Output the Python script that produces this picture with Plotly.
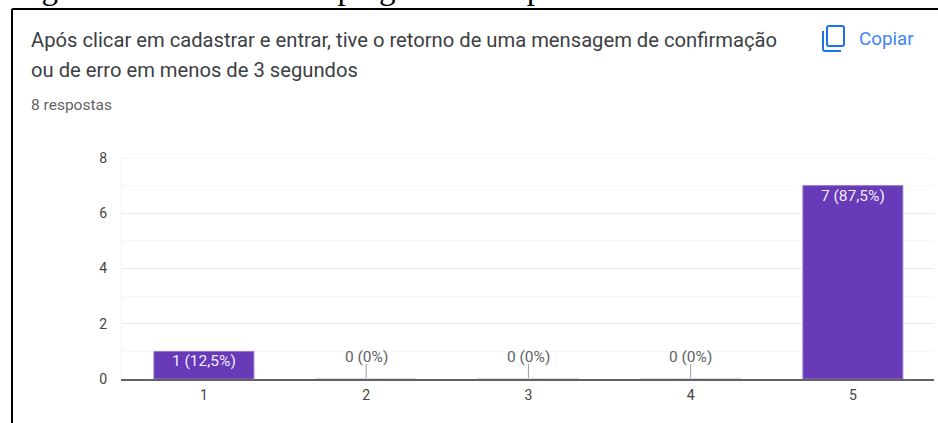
import plotly.graph_objects as go

categories = ["1", "2", "3", "4", "5"]
counts = [1, 0, 0, 0, 7]
labels = ["1 (12,5%)", "0 (0%)", "0 (0%)", "0 (0%)", "7 (87,5%)"]
y_ticks = [0, 2, 4, 6, 8]
title_lines = ["Após clicar em cadastrar e entrar, tive o retorno de uma mensagem de confirmação",
               "ou de erro em menos de 3 segundos"]
responses = "8 respostas"
copy_label = "Copiar"
caption = "Figura 8 – Resultado da pergunta 7 do passo 3 do formulário de teste"

W, H = 938, 423
PURPLE = "#673ab7"
L, R, T, B = 122, 934, 158, 379

def px(x): return (x - L) / (R - L)
def py(y): return (B - y) / (B - T)

fig = go.Figure()
fig.add_trace(go.Bar(
    x=categories, y=counts, width=0.616,
    marker=dict(color=PURPLE, line=dict(color="#9575cd", width=1)),
    hoverinfo="skip", showlegend=False, cliponaxis=False,
))

ann = []
shapes = []
for i, (v, t) in enumerate(zip(counts, labels)):
    if v > 0:
        ann.append(dict(x=i, y=v, xref="x", yref="y", text=t, showarrow=False, yanchor="top", yshift=1,
                        font=dict(family="Roboto", size=15.5, color="#f1ecf9")))
    else:
        ann.append(dict(x=i, y=v, xref="x", yref="y", text=t, showarrow=False, yanchor="bottom", yshift=11,
                        font=dict(family="Roboto", size=15.5, color="#5f6368")))
        shapes.append(dict(type="line", xref="x", yref="y", x0=i, x1=i, y0=v, y1=v + 0.55,
                           line=dict(color="#9e9e9e", width=1)))
        shapes.append(dict(type="line", xref="x", yref="y", x0=i - 0.308, x1=i + 0.308, y0=v + 0.02, y1=v + 0.02,
                           line=dict(color="#dedbe8", width=1)))

shapes.append(dict(type="line", xref="paper", yref="y", x0=0, x1=1, y0=y_ticks[-1], y1=y_ticks[-1],
                   line=dict(color="#ebebeb", width=1)))

for i, line in enumerate(title_lines):
    ann.append(dict(x=px(29), y=py(40 + 30 * i), xref="paper", yref="paper", text=line, showarrow=False,
                    xanchor="left", yanchor="middle", font=dict(family="Roboto", size=20.2, color="#3c4043")))
ann.append(dict(x=px(29), y=py(105), xref="paper", yref="paper", text=responses, showarrow=False,
                xanchor="left", yanchor="middle", font=dict(family="Roboto", size=15.5, color="#5f6368")))
ann.append(dict(x=px(857), y=py(39), xref="paper", yref="paper", text=copy_label, showarrow=False,
                xanchor="left", yanchor="middle", font=dict(family="Roboto", size=18.8, color="#4285f4")))
ann.append(dict(x=px(12), y=py(-12), xref="paper", yref="paper", text=caption, showarrow=False,
                xanchor="left", yanchor="middle", font=dict(family="Liberation Serif", size=33, color="#000000")))

# card frame
shapes.append(dict(type="line", xref="paper", yref="paper", x0=px(12), x1=px(938), y0=py(9), y1=py(9),
                   line=dict(color="#000000", width=2)))
shapes.append(dict(type="line", xref="paper", yref="paper", x0=px(12), x1=px(12), y0=py(9), y1=py(423),
                   line=dict(color="#000000", width=2)))
# copy icon
shapes.append(dict(type="path", xref="paper", yref="paper",
                   path=(f"M {px(829)} {py(26)} L {px(842)} {py(26)} Q {px(844)} {py(26)} {px(844)} {py(28)} "
                         f"L {px(844)} {py(44)} Q {px(844)} {py(46)} {px(842)} {py(46)} "
                         f"L {px(829)} {py(46)} Q {px(827)} {py(46)} {px(827)} {py(44)} "
                         f"L {px(827)} {py(28)} Q {px(827)} {py(26)} {px(829)} {py(26)} Z"),
                   line=dict(color="#1a73e8", width=2)))
shapes.append(dict(type="path", xref="paper", yref="paper",
                   path=(f"M {px(823)} {py(31)} L {px(823)} {py(49)} Q {px(823)} {py(51)} {px(825)} {py(51)} "
                         f"L {px(841)} {py(51)}"),
                   line=dict(color="#1a73e8", width=2)))

fig.update_layout(
    width=W, height=H, margin=dict(l=L, r=W - R, t=T, b=H - B), autosize=False,
    paper_bgcolor="white", plot_bgcolor="white", bargap=0.384,
    annotations=ann, shapes=shapes,
    xaxis=dict(type="category", range=[-0.505, 4.5], showgrid=False, ticks="", showline=True,
               linecolor="#5f6368", linewidth=1.5, zeroline=False, ticklabelstandoff=2,
               tickfont=dict(family="Roboto", size=14, color="#444444")),
    yaxis=dict(range=[0, 8], tickvals=y_ticks, showgrid=True, gridcolor="#ebebeb", gridwidth=1, zeroline=False,
               ticks="", ticklabelstandoff=11, tickfont=dict(family="Roboto", size=14, color="#444444"),
               minor=dict(dtick=1, showgrid=True, gridcolor="#f6f6f6", gridwidth=1),
               showline=True, linecolor="#f2f2f2", linewidth=1),
)
fig.write_html("out.html", config=dict(displayModeBar=False),
               post_script="document.body.style.margin='0';document.documentElement.style.overflow='hidden';")
